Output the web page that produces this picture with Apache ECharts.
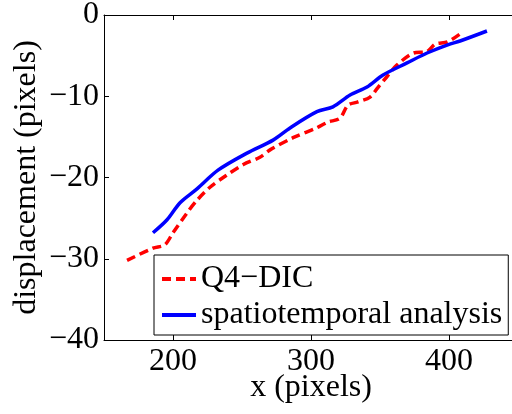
<!DOCTYPE html>
<html>
<head>
    <meta charset="utf-8" />
    <title></title>
    <script type="text/javascript" src="https://cdn.jsdelivr.net/npm/echarts@6/dist/echarts.min.js"></script>
    <style>
        html, body { margin: 0; padding: 0; background: #fff; }
        #con1 { width: 512px; height: 414px; }
    </style>
</head>
<body>
    <div id="con1"></div>
    <script type="text/javascript">
        // Q4-DIC (red dashed) [x, displacement]
        var dicX = [166.7, 185.5, 194, 200, 210, 217.4, 226.8, 239, 251, 263, 270.3, 287, 304, 312, 321, 326.8, 334, 342.8, 348.6, 355, 362, 374, 384, 390, 399, 409];
        var dicY = [-30.2, -28.7, -28.3, -26.8, -24.4, -22.8, -21.2, -19.7, -18.4, -17.5, -16.6, -15.1, -13.9, -13.2, -12.7, -11.1, -10.7, -10.1, -8.9, -7.6, -6.2, -4.7, -4.5, -3.6, -3.3, -2.2];
        // spatiotemporal analysis (blue solid)
        var staX = [185.5, 195.7, 205.1, 217.4, 232.6, 253.6, 272.5, 284.8, 304.3, 315.9, 328.3, 340.6, 352.2, 369.6, 384.1, 398.6, 408, 427.5];
        var staY = [-26.8, -25.2, -23.1, -21.4, -19.1, -17.0, -15.4, -13.9, -11.9, -11.3, -9.85, -8.86, -7.38, -5.9, -4.68, -3.7, -3.2, -1.97];
        var xTicks = [200, 300, 400];

        function pairs(xs, ys) {
            var out = [];
            for (var i = 0; i < xs.length; i++) out.push([xs[i], ys[i]]);
            return out;
        }

        var font = 'Liberation Serif';
        var fs = 32;
        var myChart1 = echarts.init(document.getElementById('con1'), null, { renderer: 'canvas' });
        var option1 = {
            backgroundColor: '#fff',
            animation: false,
            grid: { left: 104, top: 15, right: -6, bottom: 74, show: false, containLabel: false, outerBoundsMode: 'none' },
            legend: {
                orient: 'vertical',
                left: 154,
                top: 255,
                width: 400,
                backgroundColor: '#fff',
                borderColor: '#000',
                borderWidth: 1,
                borderRadius: 0,
                padding: [8, 6, 4, 6],
                itemWidth: 34,
                itemHeight: 14,
                itemGap: 4,
                itemStyle: { opacity: 0 },
                lineStyle: { width: 4 },
                textStyle: { fontFamily: font, fontSize: fs, color: '#000' },
                data: ['Q4\u2212DIC', 'spatiotemporal analysis']
            },
            xAxis: [{
                type: 'value', min: 150, max: 450,
                name: 'x (pixels)', nameLocation: 'middle', nameGap: 32, nameMoveOverlap: false,
                nameTextStyle: { fontFamily: font, fontSize: fs, color: '#000' },
                axisLine: { show: true, onZero: false, lineStyle: { color: '#000', width: 1 } },
                axisTick: { show: true, inside: true, length: 5, customValues: xTicks, lineStyle: { color: '#000' } },
                axisLabel: { customValues: xTicks, fontFamily: font, fontSize: fs, color: '#000', margin: 6 },
                splitLine: { show: false }
            }, {
                type: 'value', min: 150, max: 450, position: 'top',
                axisLine: { show: true, onZero: false, lineStyle: { color: '#000', width: 1 } },
                axisTick: { show: true, inside: true, length: 5, customValues: xTicks, lineStyle: { color: '#000' } },
                axisLabel: { show: false },
                splitLine: { show: false }
            }],
            yAxis: [{
                type: 'value', min: -40, max: 0, interval: 10,
                name: 'displacement (pixels)', nameLocation: 'middle', nameGap: 61, nameMoveOverlap: false,
                nameTextStyle: { fontFamily: font, fontSize: fs, color: '#000' },
                axisLine: { show: true, onZero: false, lineStyle: { color: '#000', width: 1 } },
                axisTick: { show: true, inside: true, length: 5, lineStyle: { color: '#000' } },
                axisLabel: {
                    fontFamily: font, fontSize: fs, color: '#000', margin: 5,
                    formatter: function (v) { return String(v).replace('-', '\u2212'); }
                },
                splitLine: { show: false }
            }],
            series: [{
                name: 'Q4\u2212DIC',
                type: 'line',
                data: pairs(dicX, dicY),
                symbol: 'none',
                smooth: 0.3,
                lineStyle: { color: '#ff0000', width: 3.5, type: [9, 5] },
                itemStyle: { color: '#ff0000' }
            }, {
                name: 'spatiotemporal analysis',
                type: 'line',
                data: pairs(staX, staY),
                symbol: 'none',
                smooth: 0.3,
                lineStyle: { color: '#0000ff', width: 3.5 },
                itemStyle: { color: '#0000ff' }
            }]
        };
        option1 && myChart1.setOption(option1);
    </script>
</body>
</html>
